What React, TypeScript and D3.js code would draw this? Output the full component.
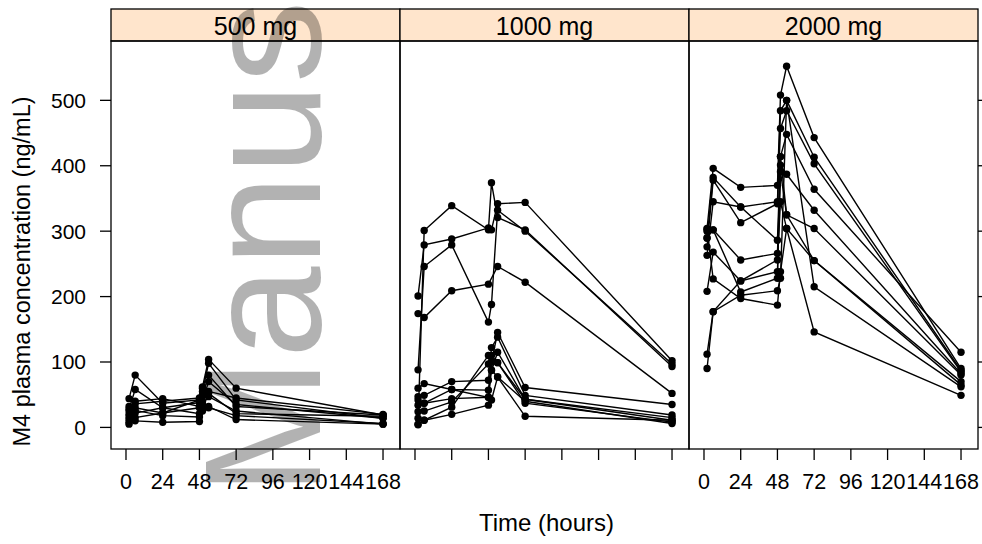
import React from "react";
import * as d3 from "d3";

// panels (dose groups) and sampling times
const doses = ["500 mg", "1000 mg", "2000 mg"];
const times = [2, 6, 24, 48, 50, 54, 72, 168];
const xTicks = [0, 24, 48, 72, 96, 120, 144, 168];
const yTicks = [0, 100, 200, 300, 400, 500];

// one row per subject, values in ng/mL at the times above (null = not sampled)
const conc500 = [
  [44, 80, 37, 42, 62, 104, 60, 19],
  [28, 58, 30, 38, 55, 98, 42, 14],
  [25, 40, 44, 32, 48, 80, 32, 19],
  [20, 30, 22, 42, 60, 52, 21, 17],
  [12, 22, 30, 21, 35, 47, 25, 5],
  [8, 10, 8, 9, 25, 32, 12, 5],
  [5, 15, 22, 30, 40, 70, 35, 14],
  [32, 36, 40, 45, 50, 55, 45, 20],
  [16, 26, 18, 16, 28, 30, 18, 6],
];

const conc1000 = [
  [5, 301, 339, 302, 374, 321, 302, 93],
  [201, 279, 288, 305, 302, 342, 344, 102],
  [88, 246, 279, 161, 188, 332, 300, 97],
  [174, 168, 209, 219, null, 246, 222, 52],
  [60, 67, 58, 57, 100, 145, 61, 35],
  [47, 49, 70, 72, 122, 138, 49, 19],
  [34, 37, 44, 46, 87, 115, 43, 11],
  [24, 25, 39, 97, 110, 99, 37, 8],
  [14, 11, 31, 110, 88, 77, 40, 6],
  [4, 11, 20, 34, 42, 77, 17, 11],
  [42, 37, 58, 46, 100, 99, 43, 15],
];

const conc2000 = [
  [304, 396, 367, 370, 508, 552, 443, 90],
  [289, 382, 337, 345, 484, 500, 413, 87],
  [276, 378, 313, 342, 457, 484, 403, 85],
  [263, 345, 337, 286, 414, 448, 364, 115],
  [300, 302, 256, 266, 401, 387, 332, 82],
  [208, 268, 224, 238, 391, 325, 304, 80],
  [112, 177, 224, 256, 345, 304, 255, 70],
  [90, 177, 202, 209, 228, 500, 215, 62],
  [303, 227, 197, 187, 238, 304, 146, 49],
  [290, 302, 207, 228, 414, 325, 255, 65],
];

const panelData = [conc500, conc1000, conc2000];

const W = 982;
const H = 544;
const left = 111;
const panelW = 289;
const stripTop = 9;
const panelTop = 41;
const panelBottom = 449;
const tickLen = 11;
const font = '"Liberation Sans", Arial, Helvetica, sans-serif';

export default function App() {
  const x = d3.scaleLinear().domain([-9.8, 179.1]).range([0, panelW]);
  const y = d3.scaleLinear().domain([-33, 590.7]).range([panelBottom, panelTop]);
  const line = d3
    .line<[number, number]>()
    .x((d) => x(d[0]))
    .y((d) => y(d[1]));

  return (
    <div style={{ position: "fixed", left: 0, top: 0 }}>
      <svg width={W} height={H} style={{ display: "block", fontFamily: font }}>
        <rect width={W} height={H} fill="white" />
        {doses.map((dose, i) => {
          const x0 = left + i * panelW;
          const subjects = panelData[i].map((row) =>
            row
              .map((v, j) => [times[j], v] as [number, number | null])
              .filter((p) => p[1] != null) as [number, number][]
          );
          return (
            <g key={dose}>
              <rect x={x0} y={stripTop} width={panelW} height={panelTop - stripTop} fill="#ffe5cc" />
              <text x={x0 + panelW / 2} y={34.5} textAnchor="middle" fontSize={25}>
                {dose}
              </text>
              <g transform={`translate(${x0},0)`}>
                {subjects.map((pts, k) => (
                  <path key={k} d={line(pts) || ""} fill="none" stroke="black" strokeWidth={1.4} />
                ))}
                {subjects.map((pts, k) =>
                  pts.map((p, j) => (
                    <circle key={k + "-" + j} cx={x(p[0])} cy={y(p[1])} r={3.7} fill="black" />
                  ))
                )}
                {/* bottom ticks */}
                {xTicks.map((t) => (
                  <line key={t} x1={x(t)} x2={x(t)} y1={panelBottom} y2={panelBottom + tickLen} stroke="black" strokeWidth={1.3} />
                ))}
                {i !== 1 &&
                  xTicks.map((t) => (
                    <text key={"l" + t} x={x(t)} y={489} textAnchor="middle" fontSize={21.5}>
                      {t}
                    </text>
                  ))}
              </g>
              <rect x={x0} y={stripTop} width={panelW} height={panelTop - stripTop} fill="none" stroke="black" strokeWidth={1.3} />
              <rect x={x0} y={panelTop} width={panelW} height={panelBottom - panelTop} fill="none" stroke="black" strokeWidth={1.3} />
            </g>
          );
        })}
        {/* left axis */}
        {yTicks.map((v) => (
          <g key={v}>
            <line x1={left - tickLen} x2={left} y1={y(v)} y2={y(v)} stroke="black" strokeWidth={1.3} />
            <text x={86} y={y(v) + 7.5} textAnchor="end" fontSize={21}>
              {v}
            </text>
            <line x1={left + 3 * panelW} x2={left + 3 * panelW + tickLen} y1={y(v)} y2={y(v)} stroke="black" strokeWidth={1.3} />
          </g>
        ))}
        <text transform="translate(30,271.5) rotate(-90)" textAnchor="middle" fontSize={23.5}>
          M4 plasma concentration (ng/mL)
        </text>
        <text x={546.5} y={531} textAnchor="middle" fontSize={24}>
          Time (hours)
        </text>
        {/* watermark */}
        <text
          transform="translate(320,248) rotate(-90)"
          textAnchor="middle"
          fontSize={165}
          fill="black"
          fillOpacity={0.3}
        >
          Manus
        </text>
      </svg>
    </div>
  );
}
